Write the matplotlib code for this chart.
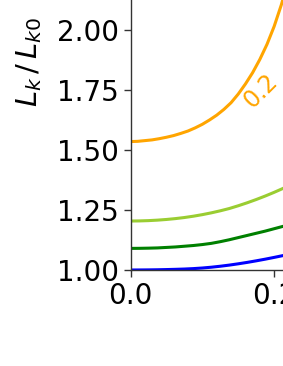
import numpy as np
import matplotlib
matplotlib.use('Agg')
import matplotlib.pyplot as plt

# values (x, Lk/Lk0)
x_orange = [0, 0.01, 0.02, 0.03, 0.04, 0.05, 0.06, 0.07, 0.08, 0.09, 0.10, 0.11,
            0.12, 0.13, 0.14, 0.15, 0.16, 0.17, 0.18, 0.19, 0.20, 0.21, 0.22]
y_orange = [1.535, 1.536, 1.539, 1.542, 1.547, 1.553, 1.560, 1.569, 1.579, 1.592,
            1.607, 1.625, 1.645, 1.669, 1.697, 1.733, 1.775, 1.822, 1.877, 1.940,
            2.015, 2.105, 2.21]

x_common = [0, 0.0125, 0.025, 0.0375, 0.05, 0.0625, 0.075, 0.0875, 0.10, 0.1125,
            0.125, 0.1375, 0.15, 0.1625, 0.175, 0.1875, 0.20, 0.2125, 0.225]
y_lightgreen = [1.204, 1.2045, 1.2057, 1.2077, 1.2105, 1.2141, 1.2186, 1.2241, 1.2306,
                1.2381, 1.2466, 1.2561, 1.2676, 1.2801, 1.2936, 1.3081, 1.3236,
                1.3401, 1.3576]
y_green = [1.090, 1.0903, 1.091, 1.092, 1.094, 1.096, 1.099, 1.102, 1.106, 1.111,
           1.118, 1.126, 1.135, 1.144, 1.153, 1.162, 1.172, 1.182, 1.193]
y_blue = [1.000, 1.0002, 1.0005, 1.001, 1.0018, 1.0028, 1.004, 1.0058, 1.0083, 1.0116,
          1.0157, 1.0204, 1.0258, 1.0317, 1.0382, 1.0451, 1.0525, 1.0602, 1.0682]

curve_label = '0.2'
yticks = [1.00, 1.25, 1.50, 1.75, 2.00, 2.25, 2.50]
xticks = [0.0, 0.2, 0.4, 0.6]

fig = plt.figure(figsize=(2.83, 3.66), dpi=100)
# axes is larger than the figure, only the lower-left corner shows
ax = fig.add_axes([130.5/283, 96/366, 431/283, 416/366])

ax.plot(x_orange, y_orange, color='orange', lw=2.2)
ax.plot(x_common, y_lightgreen, color='yellowgreen', lw=2.2)
ax.plot(x_common, y_green, color='green', lw=2.2)
ax.plot(x_common, y_blue, color='blue', lw=2.2)

ax.text(0.181, 1.745, curve_label, color='orange', fontsize=17,
        rotation=45, ha='center', va='center', rotation_mode='anchor')

ax.set_xlim(0, 0.6)
ax.set_ylim(1.0, 2.733)
ax.set_xticks(xticks)
ax.set_xticklabels(['%.1f' % t for t in xticks])
ax.set_yticks(yticks)
ax.set_yticklabels(['%.2f' % t for t in yticks])
ax.tick_params(labelsize=20, length=5, width=1, color='#333333')
for s in ax.spines.values():
    s.set_color('#333333')
    s.set_linewidth(1)
ax.set_ylabel(r'$L_k\,/\,L_{k0}$', fontsize=21, labelpad=9)

fig.savefig('out.png', dpi=100)
